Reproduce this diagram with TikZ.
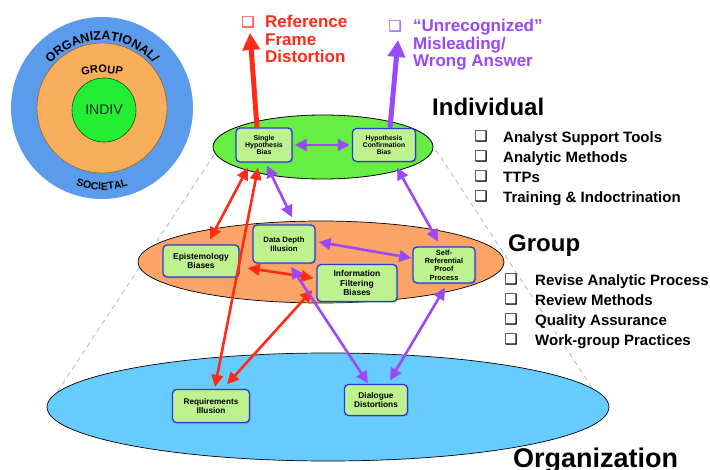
\documentclass[tikz,border=0pt]{standalone}
\usepackage{fontspec}
\setmainfont{Liberation Sans}
\newfontfamily\dejavu{DejaVu Sans}
\usetikzlibrary{arrows.meta,shadows,decorations.text}
\definecolor{myred}{HTML}{FF2A17}
\definecolor{mypurple}{HTML}{9A48F8}
\definecolor{boxfill}{HTML}{BDF28F}
\definecolor{boxline}{HTML}{2638E0}
\definecolor{indgreen}{HTML}{66EE44}
\definecolor{grporange}{HTML}{FBA468}
\definecolor{orgblue}{HTML}{66CCFF}
\definecolor{cblue}{HTML}{5A9BEB}
\definecolor{corange}{HTML}{F9AE5C}
\definecolor{cgreen}{HTML}{22EE33}
\begin{document}
\begin{tikzpicture}[x=1pt,y=-1pt,
  bias/.style={draw=boxline, line width=1.3pt, fill=boxfill, rounded corners=4pt,
    align=center, inner sep=0pt,
    drop shadow={shadow xshift=1.3pt, shadow yshift=-1.3pt, opacity=0.35}},
  redarr/.style={draw=myred, line width=2.6pt,
    arrows={Triangle[length=12pt,width=11.5pt]-Triangle[length=12pt,width=11.5pt]}},
  purarr/.style={draw=mypurple, line width=2.6pt,
    arrows={Triangle[length=12pt,width=11.5pt]-Triangle[length=12pt,width=11.5pt]}},
  bigarr/.style={line width=5pt, arrows={-Triangle[length=17pt,width=17pt]}},
  cone/.style={draw=gray!55, line width=0.8pt, dash pattern=on 5pt off 4pt},
  chk/.style={inner sep=0pt, font=\dejavu\fontsize{15}{15}\selectfont},
  listtext/.style={anchor=base west, inner sep=0pt, font=\fontsize{15}{15}\selectfont\bfseries},
  head/.style={anchor=base west, inner sep=0pt, font=\fontsize{24}{24}\selectfont\bfseries},
  toplbl/.style={anchor=base west, inner sep=0pt, font=\fontsize{17}{17}\selectfont\bfseries}
]
\fill[white] (0,0) rectangle (710,470);
\useasboundingbox (0,0) rectangle (710,470);

% ---- level diagram (top left)
\begin{scope}[shift={(102pt,-108pt)}, y=1pt]
  \fill[cblue] (0,0) circle[radius=91];
  \filldraw[fill=corange, draw=orange!60!black, line width=0.4pt] (0,0) circle[radius=65];
  \filldraw[fill=cgreen, draw=green!35!black, line width=0.6pt] (2,-2) circle[radius=32];
  \node[inner sep=0pt, font=\fontsize{14}{14}\selectfont, text=black!85] (indiv) at (2,-2) {INDIV};
  \path[decorate, decoration={text along path, text align=center,
     text={|\fontsize{12.5}{12.5}\selectfont\bfseries|ORGANIZATIONAL/}}]
     (165:68) arc[start angle=165, end angle=15, radius=68];
  \path[decorate, decoration={text along path, text align=center,
     text={|\fontsize{11}{11}\selectfont\bfseries|GROUP}}]
     (-20.7,32.3) arc[start angle=105, end angle=75, radius=80];
  \path[decorate, decoration={text along path, text align=center,
     text={|\fontsize{10.5}{10.5}\selectfont\bfseries|SOCIETAL}}]
     (235:82) arc[start angle=235, end angle=305, radius=82];
\end{scope}

% ---- cone lines
\draw[cone] (214,155) -- (55,395);
\draw[cone] (436,150) -- (600,400);

% ---- level ellipses
\draw[fill=orgblue, line width=0.7pt] (328,407) ellipse[x radius=281, y radius=54];
\draw[fill=grporange, line width=0.7pt] (321,262) ellipse[x radius=183, y radius=41];
\draw[fill=indgreen, line width=0.8pt] (323,147) ellipse[x radius=110, y radius=32];

% ---- bias boxes
\node[bias, minimum width=56pt, minimum height=34pt, font=\fontsize{7}{7.4}\selectfont\bfseries]
  (shb) at (264,145) {Single\\Hypothesis\\Bias};
\node[bias, minimum width=63pt, minimum height=33pt, font=\fontsize{6.8}{7.4}\selectfont\bfseries]
  (hcb) at (384,145) {Hypothesis\\Confirmation\\Bias};
\node[bias, minimum width=76pt, minimum height=32pt, font=\fontsize{8.5}{9.5}\selectfont\bfseries]
  (epi) at (201,261) {Epistemology\\Biases};
\node[bias, minimum width=62pt, minimum height=38pt, font=\fontsize{7.8}{8.5}\selectfont\bfseries]
  (ddi) at (284,244) {Data Depth\\Illusion};
\node[bias, minimum width=80pt, minimum height=37pt, font=\fontsize{8.5}{9.4}\selectfont\bfseries]
  (ifb) at (357,283) {Information\\Filtering\\Biases};
\node[bias, minimum width=62pt, minimum height=36pt, font=\fontsize{7.4}{8.3}\selectfont\bfseries]
  (srp) at (444,265) {Self-\\Referential\\Proof\\Process};
\node[bias, minimum width=77pt, minimum height=33pt, font=\fontsize{8.2}{9}\selectfont\bfseries]
  (req) at (211,406) {Requirements\\Illusion};
\node[bias, minimum width=63pt, minimum height=31pt, font=\fontsize{8.3}{9}\selectfont\bfseries]
  (dia) at (376,400) {Dialogue\\Distortions};

% ---- top outcome labels
\node[chk, text=myred] (rfdchk) at (248,22) {❑};
\node[toplbl, text=myred] (rfd1) at (265,28) {Reference};
\node[toplbl, text=myred] (rfd2) at (265,45.5) {Frame};
\node[toplbl, text=myred] (rfd3) at (265,63) {Distortion};
\node[chk, text=mypurple] (wrchk) at (395,26) {❑};
\node[toplbl, text=mypurple] (wr1) at (413,32) {“Unrecognized”};
\node[toplbl, text=mypurple] (wr2) at (413,49.5) {Misleading/};
\node[toplbl, text=mypurple] (wr3) at (413,67) {Wrong Answer};
\coordinate (rfdtip) at (250,33);
\coordinate (wrtip) at (398,40);

% ---- headings and lists
\node[head] (hind) at (432,115.5) {Individual};
\foreach \t [count=\i] in {Analyst Support Tools,Analytic Methods,TTPs,Training \& Indoctrination}{
  \node[chk] (ichk\i) at (481,{116.5+20*\i}) {❑};
  \node[listtext] (itxt\i) at (503,{122.4+20*\i}) {\t};
}
\node[head] (hgrp) at (508,251.6) {Group};
\foreach \t [count=\i] in {Revise Analytic Process,Review Methods,Quality Assurance,Work-group Practices}{
  \node[chk] (gchk\i) at (511,{259.5+20*\i}) {❑};
  \node[listtext] (gtxt\i) at (535,{265.4+20*\i}) {\t};
}
\node[head, font=\fontsize{27}{27}\selectfont\bfseries] (horg) at (513,467) {Organization};

% ---- connectors
\draw[bigarr, draw=myred, fill=myred] ([xshift=-7pt]shb.north) -- (rfdtip);
\draw[bigarr, draw=mypurple, fill=mypurple] ([xshift=6pt]hcb.north) -- (wrtip);
\draw[purarr, shorten <=2pt, shorten >=2pt] (shb.east) -- (hcb.west);
\draw[redarr] ([shift={(-16pt,-5pt)}]shb.south) -- ([shift={(9pt,5pt)}]epi.north);
\draw[redarr] ([shift={(-6pt,-5pt)}]shb.south) -- ([shift={(4pt,2pt)}]req.north);
\draw[redarr] ([shift={(8pt,-7pt)}]epi.east) -- ([shift={(-3pt,5pt)}]ifb.west);
\draw[redarr] ([shift={(-4pt,-7pt)}]ifb.west) -- ([shift={(16pt,4.5pt)}]req.north);
\draw[purarr] ([shift={(3pt,-3pt)}]shb.south) -- ([shift={(8pt,7pt)}]ddi.north);
\draw[purarr] ([shift={(13pt,-5.5pt)}]hcb.south) -- ([shift={(-6pt,5pt)}]srp.north);
\draw[purarr] ([shift={(3pt,2pt)}]ddi.east) -- ([shift={(-1pt,7pt)}]srp.west);
\draw[purarr] ([shift={(7pt,-3pt)}]ddi.south) -- ([shift={(-8pt,0.5pt)}]dia.north);
\draw[purarr] ([shift={(1pt,-4pt)}]srp.south) -- ([shift={(14pt,3.5pt)}]dia.north);
\end{tikzpicture}
\end{document}
